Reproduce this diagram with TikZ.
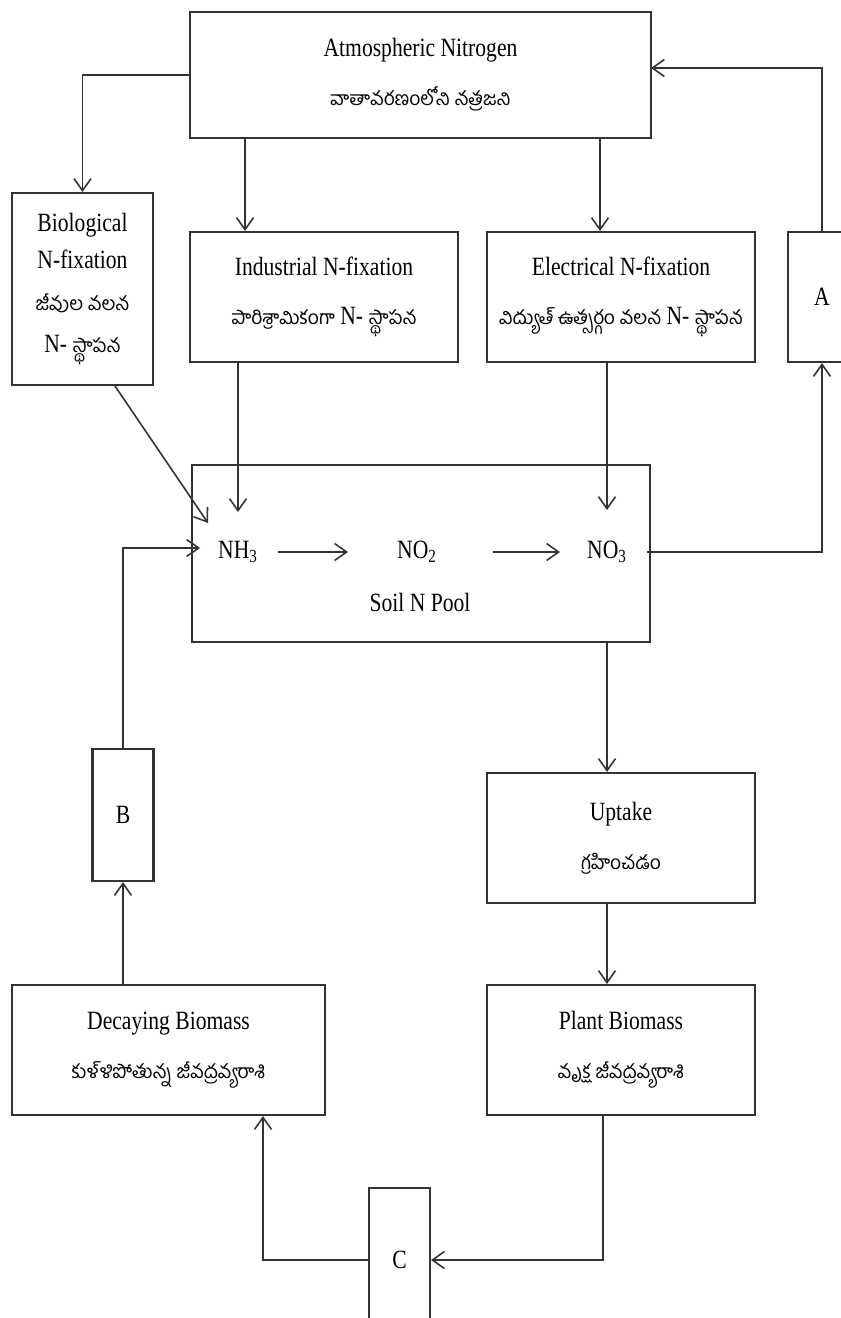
\documentclass[tikz,border=0pt]{standalone}
\usepackage{fontspec}
\setmainfont{Liberation Serif}[FakeStretch=0.82]
\newfontfamily\telfont[Script=Telugu]{Hind Guntur}
\newcommand\tlg[1]{{\telfont\fontsize{11}{14}\selectfont #1}}
\usetikzlibrary{arrows.meta}

\begin{document}
\begin{tikzpicture}[x=0.02cm, y=-0.02cm, >={Straight Barb[length=2.4mm, width=3.4mm]}, every node/.style={font=\fontsize{15}{18}\selectfont}, box/.style={draw=black!80, line width=1.2pt, inner sep=2pt, align=center}, link/.style={->, draw=black!80, line width=0.9pt}]
	\useasboundingbox (0,0) rectangle (840,1318);
	% boxes
	\node[box, minimum width=9.22cm, minimum height=2.52cm] (atm) at (420.5,75) {Atmospheric Nitrogen\\[10pt]\tlg{వాతావరణంలోని నత్రజని}};
	\node[box, minimum width=2.82cm, minimum height=3.84cm] (bio) at (82.5,289) {Biological\\[3pt]N-fixation\\[6pt]\tlg{జీవుల వలన}\\[6pt]N- \tlg{స్థాపన}};
	\node[box, minimum width=5.36cm, minimum height=2.6cm] (ind) at (324,297) {Industrial N-fixation\\[10pt]\tlg{పారిశ్రామికంగా} N- \tlg{స్థాపన}};
	\node[box, minimum width=5.36cm, minimum height=2.6cm] (ele) at (621,297) {Electrical N-fixation\\[10pt]\tlg{విద్యుత్ ఉత్సర్గం వలన} N- \tlg{స్థాపన}};
	\node[box, minimum width=1.36cm, minimum height=2.6cm] (A) at (822,297) {A};
	\node[box, minimum width=9.16cm, minimum height=3.54cm] (soil) at (421,553.5) {};
	\node (nh3) at (238,552) {NH\textsubscript{3}};
	\node (no2) at (417,552) {NO\textsubscript{2}};
	\node (no3) at (607,552) {NO\textsubscript{3}};
	\node (pool) at (420,602) {Soil N Pool};
	\node[box, minimum width=1.22cm, minimum height=2.64cm] (B) at (123,815) {B};
	\node[box, minimum width=5.36cm, minimum height=2.6cm] (up) at (621,838) {Uptake\\[10pt]\tlg{గ్రహించడం}};
	\node[box, minimum width=5.36cm, minimum height=2.6cm] (plant) at (621,1050) {Plant Biomass\\[10pt]\tlg{వృక్ష జీవద్రవ్యరాశి}};
	\node[box, minimum width=6.26cm, minimum height=2.6cm] (decay) at (168.5,1050) {Decaying Biomass\\[10pt]\tlg{కుళ్ళిపోతున్న జీవద్రవ్యరాశి}};
	\node[box, minimum width=1.22cm, minimum height=2.88cm] (C) at (399.5,1260) {C};
	% free ends
	\coordinate (bioend) at (208,523);
	\coordinate (atmin) at (651,68);
	\coordinate (nh3in) at (200,548);
	% connectors
	\draw[link] (atm.west) -| (bio.north);
	\draw[link] (atm.south -| 245,0) -- (ind.north -| 245,0);
	\draw[link] (atm.south -| 600,0) -- (ele.north -| 600,0);
	\draw[link] (bio.south -| 115,0) -- (bioend);
	\draw[link] (ind.south -| nh3) -- (nh3 |- 0,512);
	\draw[link] (ele.south -| no3) -- (no3 |- 0,510);
	\draw[link, shorten <=0.28cm, shorten >=0.86cm] (nh3.east) -- (no2.west);
	\draw[link, shorten <=1cm, shorten >=0.42cm] (no2.east) -- (no3.west);
	\draw[link, shorten <=0.28cm] (no3.east) -| (A.south);
	\draw[link] (A.north) |- (atmin);
	\draw[link] (soil.south -| 607,0) -- (up.north -| 607,0);
	\draw[link] (up.south -| 607,0) -- (plant.north -| 607,0);
	\draw[link] (plant.south -| 603,0) |- (C.east);
	\draw[link] (C.west) -| (decay.south -| 263,0);
	\draw[link] (decay.north -| B) -- (B.south);
	\draw[link] (B.north) |- (nh3in);
\end{tikzpicture}
\end{document}
